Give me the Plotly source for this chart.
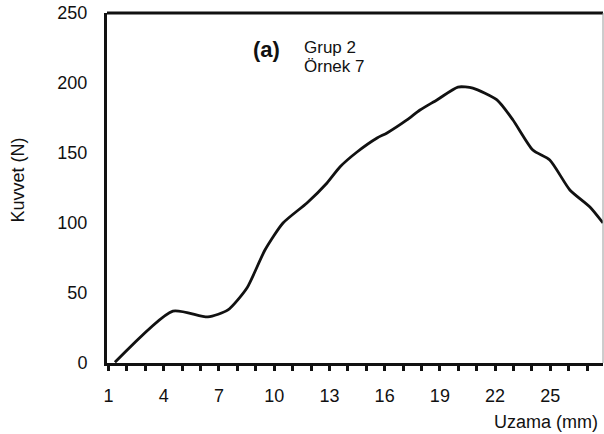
import plotly.graph_objects as go

# Data (elongation mm, force N)
uzama = [1.35, 4.50, 6.40, 7.49, 8.52, 9.50, 10.48, 11.78, 12.87, 13.57, 14.50,
         15.59, 16.13, 17.21, 17.92, 18.84, 19.98, 20.79, 22.10, 22.97, 24.05,
         24.97, 26.06, 27.15, 27.86]
kuvvet = [0.5, 37.1, 32.9, 37.9, 53.6, 80.7, 100.0, 114.3, 128.6, 140.0, 150.7,
          160.7, 164.3, 173.6, 180.7, 187.9, 197.1, 196.4, 187.9, 173.6, 152.1,
          145.0, 123.6, 111.4, 100.0]

x_ticks = [1, 4, 7, 10, 13, 16, 19, 22, 25]
y_ticks = [0, 50, 100, 150, 200, 250]

FONT = "Liberation Sans, Arial, Helvetica, sans-serif"

W, H = 604, 434
L, T = 107, 13
PLOT_R, PLOT_B = 603, 363
R, B = W - PLOT_R, H - PLOT_B
pw, ph = PLOT_R - L, PLOT_B - T

def px(xp):  # window pixel -> paper x
    return (xp - L) / pw

def py(yp):  # window pixel -> paper y
    return (PLOT_B - yp) / ph

fig = go.Figure()
fig.add_trace(go.Scatter(
    x=uzama, y=kuvvet, mode="lines",
    line=dict(color="#111111", width=2.8, shape="spline", smoothing=0.6),
    showlegend=False, hoverinfo="skip", cliponaxis=True,
))

fig.update_layout(
    width=W, height=H,
    margin=dict(l=L, r=R, t=T, b=B, pad=0),
    paper_bgcolor="white", plot_bgcolor="white",
    font=dict(family=FONT, size=18, color="#111111"),
    xaxis=dict(
        range=[0.92, 27.86], tickvals=x_ticks, ticktext=[str(v) for v in x_ticks],
        showgrid=False, zeroline=False,
        showline=True, linecolor="#111111", linewidth=3,
        ticks="outside", ticklen=5, tickwidth=2.5, tickcolor="#111111",
        minor=dict(dtick=1, tick0=1, ticks="outside", ticklen=5, tickwidth=2.5,
                   tickcolor="#111111", showgrid=False),
        ticklabelstandoff=9, ticklabeloverflow="allow",
        tickfont=dict(size=18),
    ),
    yaxis=dict(
        range=[0, 250], tickvals=y_ticks, ticktext=[str(v) for v in y_ticks],
        showgrid=False, zeroline=False,
        showline=True, linecolor="#111111", linewidth=3,
        ticks="outside", ticklen=0,
        ticklabelstandoff=13, ticklabeloverflow="allow",
        tickfont=dict(size=18),
    ),
    shapes=[
        dict(type="line", xref="paper", yref="paper", x0=0, x1=1, y0=1, y1=1,
             line=dict(color="#111111", width=3)),
        dict(type="line", xref="paper", yref="paper", x0=1, x1=1, y0=0, y1=1,
             line=dict(color="#9a9a9a", width=1)),
    ],
    annotations=[
        dict(text="Kuvvet (N)", xref="paper", yref="paper", x=px(17.5), y=py(180),
             showarrow=False, textangle=-90, font=dict(size=18),
             xanchor="center", yanchor="middle"),
        dict(text="Uzama (mm)", xref="paper", yref="paper", x=px(600), y=py(422),
             showarrow=False, font=dict(size=18), xanchor="right", yanchor="middle"),
        dict(text="<b>(a)</b>", xref="paper", yref="paper", x=px(266), y=py(49),
             showarrow=False, font=dict(size=22), xanchor="center", yanchor="middle"),
        dict(text="Grup 2", xref="paper", yref="paper", x=px(302), y=py(47),
             showarrow=False, font=dict(size=17), xanchor="left", yanchor="middle"),
        dict(text="Örnek 7", xref="paper", yref="paper", x=px(302), y=py(67),
             showarrow=False, font=dict(size=17), xanchor="left", yanchor="middle"),
    ],
)

fig.write_html(
    "out.html",
    config={"displayModeBar": False},
    post_script="document.body.style.margin='0';document.body.style.overflow='hidden';",
)
